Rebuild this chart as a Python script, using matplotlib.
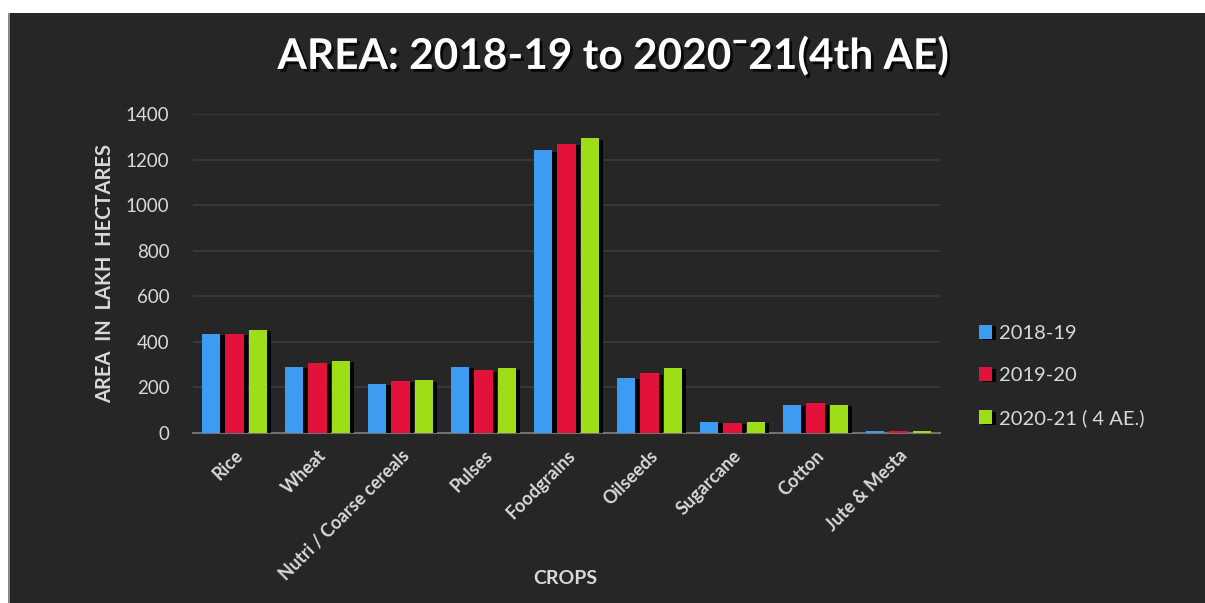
import matplotlib
matplotlib.use("Agg")
import matplotlib.pyplot as plt
import matplotlib.patheffects as pe
import numpy as np

crops = ["Rice", "Wheat", "Nutri / Coarse cereals", "Pulses", "Foodgrains",
         "Oilseeds", "Sugarcane", "Cotton", "Jute & Mesta"]
series_names = ["2018-19", "2019-20", "2020-21 ( 4 AE.)"]
area_2018_19 = [435, 290, 215, 290, 1241, 242, 48, 124, 7]
area_2019_20 = [436, 307, 228, 276, 1270, 262, 44, 131, 7]
area_2020_21 = [452, 316, 232, 284, 1293, 285, 48, 124, 7]
yticks = [0, 200, 400, 600, 800, 1000, 1200, 1400]

colors = ["#3d9cf2", "#e2123a", "#9ede18"]
bg = "#262626"
txt = "#d9d9d9"
font = "Lato"

W, H = 1205, 603
fig = plt.figure(figsize=(W / 100, H / 100), dpi=100, facecolor=bg)
# white framing strips from the screenshot
fig.patches.append(plt.Rectangle((0, 1 - 13 / H), 1, 13 / H, transform=fig.transFigure,
                                 facecolor="white", edgecolor="none", zorder=0))
fig.patches.append(plt.Rectangle((0, 0), 8 / W, 1, transform=fig.transFigure,
                                 facecolor="white", edgecolor="none", zorder=0))
fig.patches.append(plt.Rectangle((8 / W, 0), 2 / W, 1 - 13 / H, transform=fig.transFigure,
                                 facecolor="#8a8a8a", edgecolor="none", zorder=0))

ax = fig.add_axes([193 / W, 1 - 433 / H, (940 - 193) / W, (433 - 114) / H])
ax.set_facecolor(bg)

x = np.arange(len(crops))
bw = 0.22
offs = [-0.28, 0.0, 0.28]
shadow = [pe.SimplePatchShadow(offset=(3, -1), shadow_rgbFace="black", alpha=0.9), pe.Normal()]
for vals, off, c, name in zip([area_2018_19, area_2019_20, area_2020_21], offs, colors, series_names):
    bars = ax.bar(x + off, vals, width=bw, color=c, label=name, zorder=3)
    for b in bars:
        b.set_path_effects(shadow)

ax.set_xlim(-0.5, len(crops) - 0.5)
ax.set_ylim(0, 1400)
ax.set_yticks(yticks)
ax.yaxis.grid(True, color="#3c3c3c", linewidth=1.2, zorder=0)
ax.set_axisbelow(True)
for s in ["top", "right", "left"]:
    ax.spines[s].set_visible(False)
ax.spines["bottom"].set_color("#707070")
ax.spines["bottom"].set_linewidth(1.5)
ax.tick_params(axis="both", length=0, colors=txt)
ax.tick_params(axis="y", pad=17, labelsize=13.5)
for lab in ax.get_yticklabels():
    lab.set_fontfamily(font)

ax.set_xticks(x)
ax.set_xticklabels(crops, rotation=45, ha="right", rotation_mode="anchor",
                   fontsize=13, fontweight="bold", color=txt, fontfamily=font)
ax.tick_params(axis="x", pad=10)

ax.set_ylabel("AREA  IN  LAKH  HECTARES", fontsize=14.5, fontweight="bold", color=txt,
              fontfamily=font, labelpad=8)
fig.text(565 / W, 1 - 579 / H, "CROPS", ha="center", va="center", fontsize=14,
         fontweight="bold", color=txt, fontfamily=font)

fig.text(613 / W, 1 - 56 / H, "AREA: 2018-19 to 2020\u00af21(4th AE)", ha="center", va="center",
         fontsize=30.5, fontweight="bold", color="white", fontfamily=font,
         path_effects=[pe.withSimplePatchShadow(offset=(2, -2), shadow_rgbFace="black", alpha=0.8)])

leg = ax.legend(loc="center left", bbox_to_anchor=(961 / W, 1 - 376 / H),
                bbox_transform=fig.transFigure, frameon=False,
                handlelength=0.65, handleheight=0.65, handletextpad=0.35, labelspacing=1.25,
                prop={"family": font, "size": 14.5})
for t in leg.get_texts():
    t.set_color(txt)

fig.savefig("out.png", dpi=100, facecolor=bg)
